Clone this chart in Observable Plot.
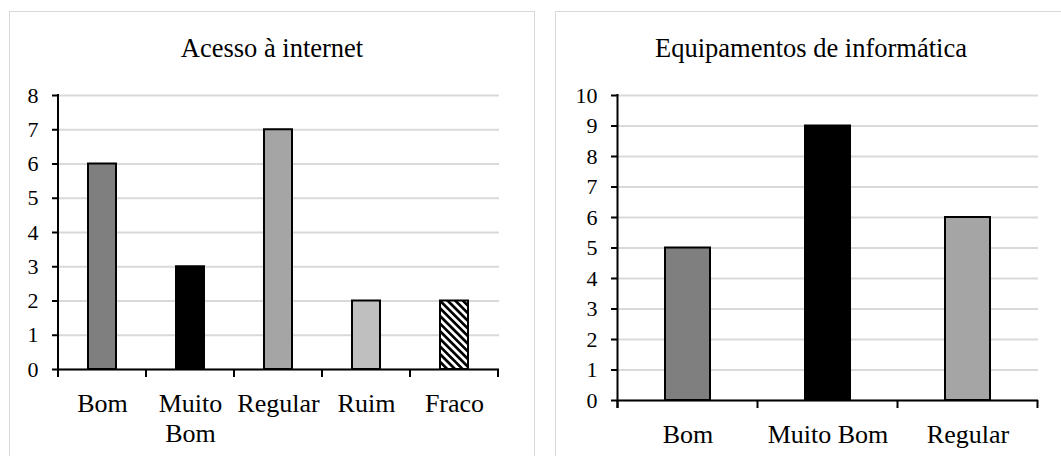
<!DOCTYPE html>
<html>
<head>
<meta charset="utf-8">
<script src="https://cdn.jsdelivr.net/npm/d3@7"></script>
<script src="https://cdn.jsdelivr.net/npm/@observablehq/plot@0.6"></script>
<style>
  html, body { margin: 0; padding: 0; background: #fff; }
  body { position: relative; width: 1061px; height: 456px; overflow: hidden;
         font-family: "Liberation Serif", "Times New Roman", serif; color: #000; }
  .panel { position: absolute; top: 11px; height: 470px; border: 1.5px solid #d9d9d9; box-sizing: border-box; }
  .title { position: absolute; top: 33px; font-size: 26.5px; line-height: 30px; text-align: center; white-space: nowrap; }
  .chart { position: absolute; top: 0; }
  .chart svg { background: transparent; overflow: visible; }
</style>
</head>
<body>
<div class="panel" style="left:9px;width:526px;"></div>
<div class="panel" style="left:555px;width:530px;"></div>
<div class="title" style="left:9px;width:526px;">Acesso à internet</div>
<div class="title" style="left:555px;width:512px;">Equipamentos de informática</div>
<div class="chart" id="c1" style="left:0px;"></div>
<div class="chart" id="c2" style="left:530px;"></div>
<script>
// ---- data ----
const catsA = ["Bom", "Muito Bom", "Regular", "Ruim", "Fraco"];
const valsA = [6, 3, 7, 2, 2];
const ticksA = [0, 1, 2, 3, 4, 5, 6, 7, 8];

const catsB = ["Bom", "Muito Bom", "Regular"];
const valsB = [5, 9, 6];
const ticksB = [0, 1, 2, 3, 4, 5, 6, 7, 8, 9, 10];

// ---- styles ----
const fills = {
  "Bom": "#7f7f7f",
  "Muito Bom": "#000000",
  "Regular": "#a5a5a5",
  "Ruim": "#bfbfbf",
  "Fraco": "url(#hatch)"
};

function makeChart(cats, vals, ticks, opts) {
  const data = cats.map((c, i) => ({cat: c, val: vals[i]}));
  const chart = Plot.plot({
    width: opts.width,
    height: 456,
    marginLeft: opts.ml,
    marginRight: opts.mr,
    marginTop: 95,
    marginBottom: opts.mb,
    style: {fontFamily: "'Liberation Serif', 'Times New Roman', serif", background: "transparent", color: "#000"},
    x: {domain: cats, paddingInner: 0.68, paddingOuter: 0.34, axis: null},
    y: {domain: [ticks[0], ticks[ticks.length - 1]], axis: null},
    color: {type: "identity"},
    marks: [
      Plot.ruleY(ticks, {stroke: "#d9d9d9", strokeWidth: 2}),
      Plot.barY(data, {x: "cat", y: "val", fill: d => fills[d.cat], stroke: "#000", strokeWidth: 2}),
      Plot.ruleY([0], {stroke: "#000", strokeWidth: 2}),
      Plot.axisY({ticks: ticks, tickSize: 6, tickPadding: 14, fontSize: 22, tickFormat: d => String(d), label: null, stroke: "#000", strokeWidth: 2}),
      Plot.axisX({tickSize: 0, tickPadding: 21, fontSize: 26, lineHeight: 1.16, label: null,
                  tickFormat: opts.wrap ? (d => d.replace(" ", "\n")) : (d => d)})
    ]
  });

  const svg = d3.select(chart);
  const sx = chart.scale("x");
  const sy = chart.scale("y");
  const y0 = sy.apply(ticks[0]);
  const yTop = sy.apply(ticks[ticks.length - 1]);
  const half = (sx.step - sx.bandwidth) / 2;
  const bounds = cats.map(c => sx.apply(c) - half);
  bounds.push(sx.apply(cats[cats.length - 1]) + sx.bandwidth + half);

  const g = svg.append("g").attr("stroke", "#000").attr("stroke-width", 2);
  // vertical axis line
  g.append("line").attr("x1", bounds[0]).attr("x2", bounds[0]).attr("y1", yTop - 1).attr("y2", y0 + 8);
  // category boundary ticks
  g.selectAll("line.bt").data(bounds).join("line").attr("class", "bt")
    .attr("x1", d => d).attr("x2", d => d).attr("y1", y0).attr("y2", y0 + 8);

  // hatch pattern
  const defs = svg.insert("defs", ":first-child");
  const p = defs.append("pattern").attr("id", "hatch").attr("patternUnits", "userSpaceOnUse")
    .attr("width", 5.4).attr("height", 5.4).attr("patternTransform", "rotate(-45)");
  p.append("rect").attr("width", 5.4).attr("height", 5.4).attr("fill", "#fff");
  p.append("rect").attr("width", 2.7).attr("height", 5.4).attr("fill", "#000");
  return chart;
}

document.getElementById("c1").appendChild(
  makeChart(catsA, valsA, ticksA, {width: 530, ml: 58, mr: 31, mb: 87, wrap: true}));
document.getElementById("c2").appendChild(
  makeChart(catsB, valsB, ticksB, {width: 531, ml: 87, mr: 23, mb: 56, wrap: false}));
</script>
</body>
</html>
